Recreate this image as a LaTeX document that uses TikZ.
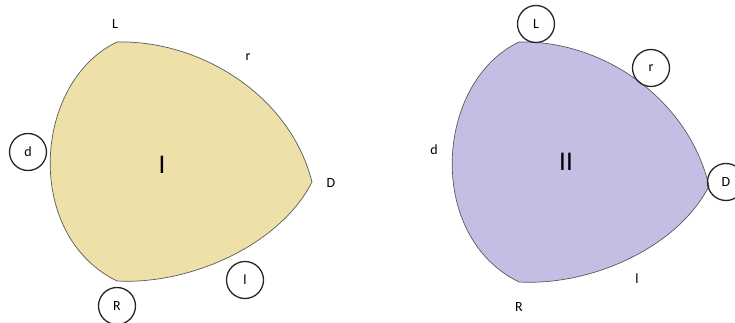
\documentclass[tikz,border=0pt]{standalone}
\usepackage{fontspec}
\setmainfont{Carlito}
\definecolor{tanfill}{RGB}{237,224,168}
\definecolor{lavfill}{RGB}{197,190,228}
\definecolor{edgegray}{RGB}{90,90,90}
\begin{document}
\begin{tikzpicture}[x=1pt,y=-1pt,
  lbl/.style={font=\fontsize{14}{16}\selectfont, inner sep=0pt},
  ring/.style={draw=black!85, line width=1.3pt, circle, minimum size=37pt, inner sep=0pt, font=\fontsize{14}{16}\selectfont},
  big/.style={font=\fontsize{27}{29}\selectfont, inner sep=0pt},
  blob/.style={draw=edgegray, line width=0.7pt}]
\useasboundingbox (0,0) rectangle (735,323);
% left shape
\path[blob, fill=tanfill] (117,42) .. controls (200,40) and (290,95) .. (312,182)
  .. controls (280,245) and (190,285) .. (117,281)
  .. controls (23,235) and (33,82) .. cycle;
% right shape
\path[blob, fill=lavfill] (519,42) .. controls (602,40) and (688,98) .. (709,186)
  .. controls (678,247) and (592,286) .. (519,282)
  .. controls (425,236) and (435,82) .. cycle;
% left labels
\node[lbl] (lL) at (115,24) {L};
\node[lbl] (lr) at (248,57) {r};
\node[lbl] (lD) at (331,183) {D};
\node[big] (lI) at (162,165) {I};
\node[ring] (ld) at (28,152) {d};
\node[ring] (ll) at (245,280) {l};
\node[ring] (lR) at (117,306) {R};
% right labels
\node[ring] (rL) at (536,24) {L};
\node[ring] (rr) at (651,68) {r};
\node[ring] (rD) at (726,182) {D};
\node[big] (rII) at (566,162) {II};
\node[lbl] (rd) at (434,150) {d};
\node[lbl] (rl) at (637,279) {l};
\node[lbl] (rR) at (519,307) {R};
\end{tikzpicture}
\end{document}
